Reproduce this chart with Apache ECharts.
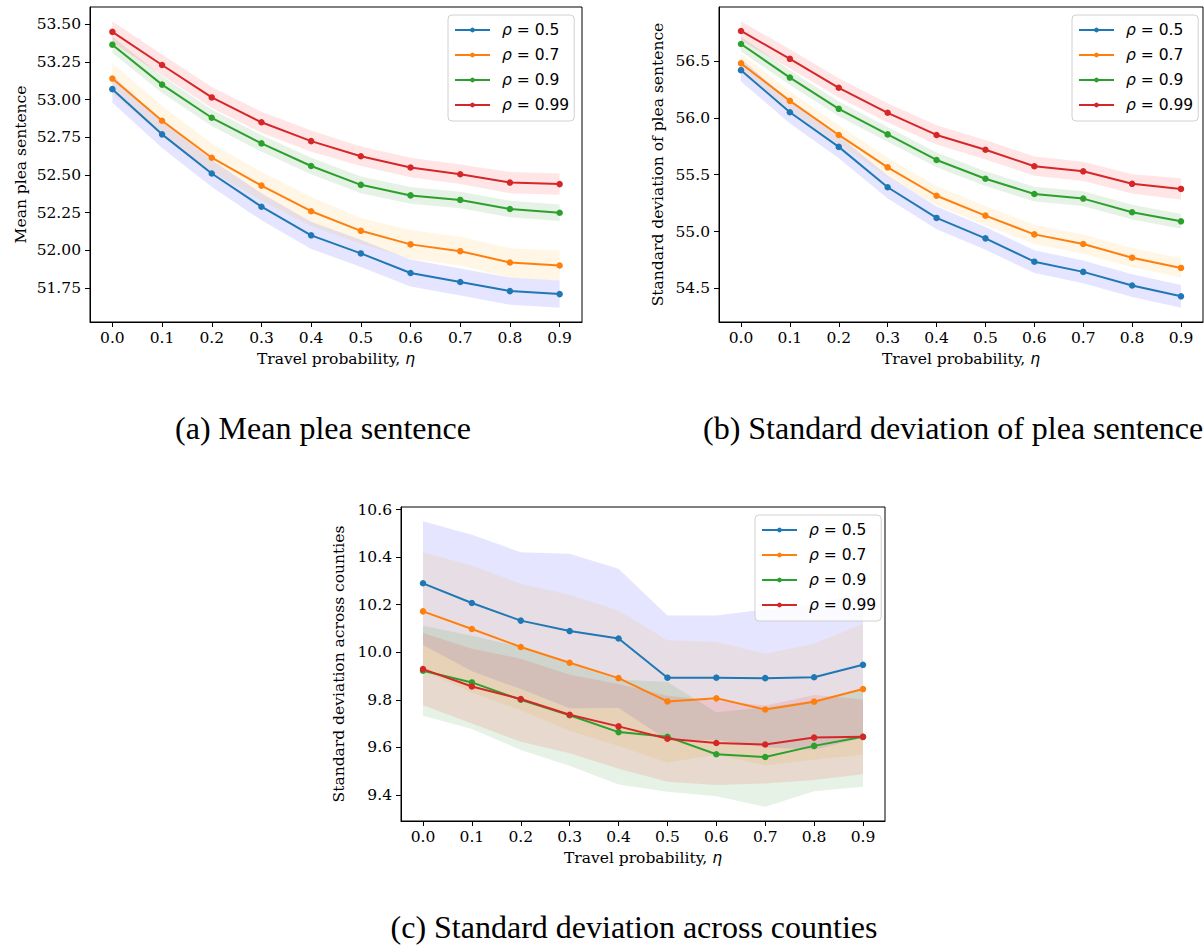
<!DOCTYPE html>
<html>
<head>
<meta charset="utf-8">
<script src="https://cdn.jsdelivr.net/npm/echarts@6/dist/echarts.min.js"></script>
<style>
html,body{margin:0;padding:0;background:#fff;}
#chart{width:1204px;height:945px;}
</style>
</head>
<body>
<div id="chart"></div>
<script>
// ---------------- data ----------------
const etaValues = [0.0, 0.1, 0.2, 0.3, 0.4, 0.5, 0.6, 0.7, 0.8, 0.9];
const xTickLabels = [0.0, 0.1, 0.2, 0.3, 0.4, 0.5, 0.6, 0.7, 0.8, 0.9];
const seriesNames = ['ρ = 0.5', 'ρ = 0.7', 'ρ = 0.9', 'ρ = 0.99'];

// (a) Mean plea sentence
const meanTicks = [51.75, 52.00, 52.25, 52.50, 52.75, 53.00, 53.25, 53.50];
const meanRho05 = [53.07, 52.77, 52.51, 52.29, 52.10, 51.98, 51.85, 51.79, 51.73, 51.71];
const meanRho05Lo = [52.98, 52.68, 52.42, 52.20, 52.01, 51.89, 51.76, 51.70, 51.64, 51.62];
const meanRho05Hi = [53.16, 52.86, 52.60, 52.38, 52.19, 52.07, 51.94, 51.88, 51.82, 51.80];
const meanRho07 = [53.14, 52.86, 52.615, 52.43, 52.26, 52.13, 52.04, 51.995, 51.92, 51.90];
const meanRho07Lo = [53.04, 52.76, 52.52, 52.33, 52.16, 52.045, 51.945, 51.90, 51.82, 51.80];
const meanRho07Hi = [53.24, 52.96, 52.71, 52.52, 52.355, 52.215, 52.135, 52.09, 52.015, 52.00];
const meanRho09 = [53.365, 53.10, 52.88, 52.71, 52.56, 52.435, 52.365, 52.335, 52.275, 52.25];
const meanRho09Lo = [53.31, 53.045, 52.825, 52.655, 52.505, 52.38, 52.31, 52.28, 52.22, 52.195];
const meanRho09Hi = [53.42, 53.155, 52.935, 52.765, 52.615, 52.49, 52.42, 52.39, 52.33, 52.305];
const meanRho099 = [53.45, 53.23, 53.015, 52.85, 52.725, 52.625, 52.55, 52.505, 52.45, 52.44];
const meanRho099Lo = [53.38, 53.16, 52.945, 52.78, 52.655, 52.56, 52.485, 52.44, 52.38, 52.37];
const meanRho099Hi = [53.52, 53.30, 53.085, 52.92, 52.795, 52.69, 52.615, 52.57, 52.52, 52.51];

// (b) Standard deviation of plea sentence
const sdTicks = [54.5, 55.0, 55.5, 56.0, 56.5];
const sdRho05 = [56.42, 56.05, 55.745, 55.39, 55.12, 54.94, 54.735, 54.645, 54.525, 54.43];
const sdRho05Lo = [56.32, 55.95, 55.645, 55.29, 55.02, 54.84, 54.635, 54.545, 54.425, 54.33];
const sdRho05Hi = [56.52, 56.15, 55.845, 55.49, 55.22, 55.04, 54.835, 54.745, 54.625, 54.53];
const sdRho07 = [56.48, 56.15, 55.85, 55.565, 55.315, 55.14, 54.975, 54.89, 54.77, 54.68];
const sdRho07Lo = [56.395, 56.065, 55.765, 55.48, 55.23, 55.055, 54.89, 54.805, 54.685, 54.595];
const sdRho07Hi = [56.565, 56.235, 55.935, 55.65, 55.40, 55.225, 55.06, 54.975, 54.855, 54.765];
const sdRho09 = [56.65, 56.355, 56.08, 55.855, 55.63, 55.465, 55.33, 55.29, 55.17, 55.09];
const sdRho09Lo = [56.585, 56.29, 56.015, 55.79, 55.565, 55.40, 55.265, 55.225, 55.105, 55.025];
const sdRho09Hi = [56.715, 56.42, 56.145, 55.92, 55.695, 55.53, 55.395, 55.355, 55.235, 55.155];
const sdRho099 = [56.765, 56.52, 56.265, 56.045, 55.85, 55.72, 55.575, 55.53, 55.42, 55.375];
const sdRho099Lo = [56.68, 56.435, 56.18, 55.96, 55.765, 55.635, 55.49, 55.445, 55.335, 55.28];
const sdRho099Hi = [56.85, 56.605, 56.35, 56.13, 55.935, 55.805, 55.66, 55.615, 55.505, 55.47];

// (c) Standard deviation across counties
const countyTicks = [9.4, 9.6, 9.8, 10.0, 10.2, 10.4, 10.6];
const ctyRho05 = [10.29, 10.207, 10.133, 10.089, 10.058, 9.893, 9.893, 9.891, 9.895, 9.947];
const ctyRho05Lo = [10.03, 9.92, 9.845, 9.764, 9.765, 9.631, 9.631, 9.60, 9.59, 9.641];
const ctyRho05Hi = [10.551, 10.494, 10.421, 10.414, 10.351, 10.155, 10.155, 10.18, 10.20, 10.253];
const ctyRho07 = [10.172, 10.098, 10.022, 9.956, 9.891, 9.793, 9.806, 9.759, 9.792, 9.845];
const ctyRho07Lo = [9.923, 9.831, 9.756, 9.67, 9.606, 9.536, 9.569, 9.524, 9.548, 9.57];
const ctyRho07Hi = [10.421, 10.365, 10.288, 10.242, 10.176, 10.05, 10.043, 9.994, 10.036, 10.12];
const ctyRho09 = [9.922, 9.873, 9.800, 9.735, 9.664, 9.644, 9.571, 9.559, 9.606, 9.644];
const ctyRho09Lo = [9.733, 9.677, 9.589, 9.522, 9.443, 9.413, 9.394, 9.35, 9.415, 9.434];
const ctyRho09Hi = [10.111, 10.069, 10.022, 9.950, 9.885, 9.875, 9.748, 9.768, 9.797, 9.845];
const ctyRho099 = [9.929, 9.856, 9.803, 9.737, 9.688, 9.636, 9.618, 9.612, 9.641, 9.644];
const ctyRho099Lo = [9.777, 9.70, 9.623, 9.575, 9.51, 9.455, 9.441, 9.448, 9.462, 9.487];
const ctyRho099Hi = [10.081, 10.015, 9.973, 9.905, 9.866, 9.817, 9.795, 9.776, 9.82, 9.801];

const captions = ['(a) Mean plea sentence', '(b) Standard deviation of plea sentence', '(c) Standard deviation across counties'];
const yAxisTitles = ['Mean plea sentence', 'Standard deviation of plea sentence', 'Standard deviation across counties'];
const xAxisTitle = 'Travel probability, {i|η}';

// ---------------- styling ----------------
const lineColors = ['#1f77b4', '#ff7f0e', '#2ca02c', '#d62728'];
const bandColors = ['rgba(0,0,255,0.1)', 'rgba(255,165,0,0.1)', 'rgba(0,128,0,0.1)', 'rgba(255,0,0,0.1)'];
const serif = 'DejaVu Serif';
const sans = 'DejaVu Sans';

const panels = [
  { grid: {left: 90, top: 7, width: 492, height: 315}, ticks: meanTicks, dec: 2, nameGap: 61,
    lines: [meanRho05, meanRho07, meanRho09, meanRho099],
    lows: [meanRho05Lo, meanRho07Lo, meanRho09Lo, meanRho099Lo],
    highs: [meanRho05Hi, meanRho07Hi, meanRho09Hi, meanRho099Hi],
    legend: {left: 448, top: 15} },
  { grid: {left: 719, top: 7, width: 484, height: 315}, ticks: sdTicks, dec: 1, nameGap: 53,
    lines: [sdRho05, sdRho07, sdRho09, sdRho099],
    lows: [sdRho05Lo, sdRho07Lo, sdRho09Lo, sdRho099Lo],
    highs: [sdRho05Hi, sdRho07Hi, sdRho09Hi, sdRho099Hi],
    legend: {left: 1072, top: 15} },
  { grid: {left: 401, top: 507, width: 484, height: 314}, ticks: countyTicks, dec: 1, nameGap: 54,
    lines: [ctyRho05, ctyRho07, ctyRho09, ctyRho099],
    lows: [ctyRho05Lo, ctyRho07Lo, ctyRho09Lo, ctyRho099Lo],
    highs: [ctyRho05Hi, ctyRho07Hi, ctyRho09Hi, ctyRho099Hi],
    legend: {left: 755, top: 515} }
];

function paddedExtent(arrays) {
  let mn = Infinity, mx = -Infinity;
  arrays.forEach(a => a.forEach(v => { mn = Math.min(mn, v); mx = Math.max(mx, v); }));
  const pad = (mx - mn) * 0.05;
  return [mn - pad, mx + pad];
}
const xExt = paddedExtent([etaValues]);

const grids = [], xAxes = [], yAxes = [], series = [], legends = [];

panels.forEach((p, gi) => {
  grids.push(Object.assign({show: true, borderColor: '#000', borderWidth: 1, containLabel: false, outerBoundsMode: 'none'}, p.grid));
  xAxes.push({
    type: 'value', gridIndex: gi, min: xExt[0], max: xExt[1],
    splitLine: {show: false},
    axisLine: {show: true, onZero: false, lineStyle: {color: '#000', width: 1}},
    axisTick: {show: true, customValues: xTickLabels, length: 5, lineStyle: {color: '#000', width: 1}},
    axisLabel: {customValues: xTickLabels, formatter: v => v.toFixed(1), margin: 8,
      fontFamily: serif, fontSize: 15.5, color: '#000'},
    name: xAxisTitle, nameLocation: 'middle', nameGap: 29,
    nameTextStyle: {fontFamily: serif, fontSize: 15.5, color: '#000',
      rich: {i: {fontFamily: sans, fontStyle: 'italic', fontSize: 15.5, color: '#000'}}}
  });
  const yExt = paddedExtent(p.lows.concat(p.highs, p.lines));
  yAxes.push({
    type: 'value', gridIndex: gi, min: yExt[0], max: yExt[1],
    splitLine: {show: false},
    axisLine: {show: true, onZero: false, lineStyle: {color: '#000', width: 1}},
    axisTick: {show: true, customValues: p.ticks, length: 5, lineStyle: {color: '#000', width: 1}},
    axisLabel: {customValues: p.ticks, formatter: v => v.toFixed(p.dec), margin: 9,
      fontFamily: serif, fontSize: 15.5, color: '#000'},
    name: yAxisTitles[gi], nameLocation: 'middle', nameGap: p.nameGap,
    nameTextStyle: {fontFamily: serif, fontSize: 15.5, color: '#000'}
  });

  // bands
  p.lines.forEach((vals, si) => {
    const lo = p.lows[si], hi = p.highs[si];
    const data = etaValues.map((x, i) => [x, lo[i], hi[i]]);
    series.push({
      type: 'custom', name: 'band' + gi + '_' + si, xAxisIndex: gi, yAxisIndex: gi,
      silent: true, z: 1, clip: true, data: data,
      encode: {x: 0, y: [1, 2]},
      renderItem: function (params, api) {
        if (params.dataIndex !== 0) return null;
        const top = [], bot = [];
        data.forEach(d => {
          top.push(api.coord([d[0], d[2]]));
          bot.push(api.coord([d[0], d[1]]));
        });
        return {type: 'polygon', shape: {points: top.concat(bot.reverse())},
          style: {fill: bandColors[si], stroke: null, lineWidth: 0}};
      }
    });
  });
  // lines
  p.lines.forEach((vals, si) => {
    series.push({
      type: 'line', name: seriesNames[si], xAxisIndex: gi, yAxisIndex: gi,
      data: etaValues.map((x, i) => [x, vals[i]]),
      symbol: 'circle', symbolSize: 6.5, showSymbol: true, z: 3,
      lineStyle: {color: lineColors[si], width: 2},
      itemStyle: {color: lineColors[si]},
      emphasis: {disabled: true}
    });
  });

  legends.push({
    data: seriesNames, left: p.legend.left, top: p.legend.top, orient: 'vertical',
    itemWidth: 35, itemHeight: 6, itemGap: 9, padding: [7, 5, 8, 6],
    borderColor: '#d0d0d0', borderWidth: 1, borderRadius: 4,
    backgroundColor: 'rgba(255,255,255,0.8)', selectedMode: false, z: 10,
    formatter: n => '{i|ρ}{r|' + n.slice(1) + '}',
    textStyle: {fontFamily: sans, fontSize: 15.5, color: '#000', lineHeight: 16,
      rich: {
        i: {fontFamily: sans, fontStyle: 'italic', fontSize: 15.5, color: '#000', lineHeight: 16, padding: [0, 0, 0, 7]},
        r: {fontFamily: sans, fontSize: 15.5, color: '#000', lineHeight: 16}
      }}
  });
});

const captionPos = [
  {x: 323, y: 428, align: 'center'},
  {x: 703, y: 428, align: 'left'},
  {x: 634, y: 927, align: 'center'}
];
const graphics = captions.map((t, i) => ({
  type: 'text', x: captionPos[i].x, y: captionPos[i].y, silent: true,
  style: {text: t, fill: '#000', font: '32px "Liberation Serif"',
    align: captionPos[i].align, verticalAlign: 'middle',
    textAlign: captionPos[i].align, textVerticalAlign: 'middle'}
}));

const chart = echarts.init(document.getElementById('chart'), null, {renderer: 'svg'});
chart.setOption({
  animation: false,
  backgroundColor: '#fff',
  grid: grids,
  xAxis: xAxes,
  yAxis: yAxes,
  legend: legends,
  series: series,
  graphic: graphics
});
</script>
</body>
</html>
